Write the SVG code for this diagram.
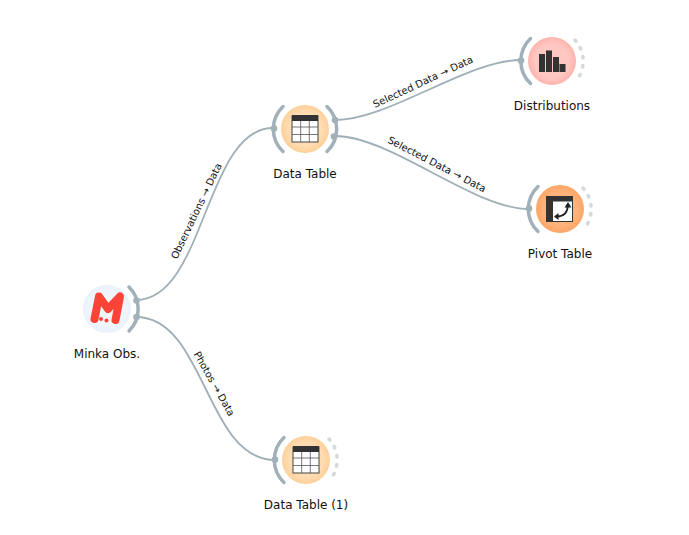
<svg xmlns="http://www.w3.org/2000/svg" width="689" height="535" viewBox="0 0 689 535">
<style>
text{font-family:"DejaVu Sans",sans-serif;fill:#111}
.t{font-size:12px;text-anchor:middle}
.e{font-size:10px;text-anchor:middle}
.c{fill:none;stroke:#9fb0b8;stroke-width:1.8}
.a{fill:none;stroke:#a2b1b9;stroke-width:3.500;stroke-linecap:round}
.o{fill:none;stroke:#d3d9dc;stroke-width:3.500;stroke-linecap:round;stroke-dasharray:1.500 7.700}
.d{fill:#a2b1b9}
.ic{fill:#333}
.g{fill:#fff;stroke:#444;stroke-width:1}
.l{stroke:#555;stroke-width:.8;fill:none}
</style>
<defs>
<radialGradient id="gt"><stop offset="0.7" stop-color="#ffdcb2"/><stop offset="1" stop-color="#ffd09a"/></radialGradient>
<radialGradient id="gd"><stop offset="0.7" stop-color="#ffc7c2"/><stop offset="1" stop-color="#ffb4ae"/></radialGradient>
<radialGradient id="gp"><stop offset="0.7" stop-color="#ffb27a"/><stop offset="1" stop-color="#fca667"/></radialGradient>
<radialGradient id="gm"><stop offset="0.7" stop-color="#f0f6fb"/><stop offset="1" stop-color="#eaf2fa"/></radialGradient>
<g id="table">
<rect x="-13" y="-13" width="26" height="26" class="g"/>
<rect x="-13" y="-14" width="26" height="6" class="ic"/>
<path class="l" d="M-13-2H13M-13 5.500H13M-4.300-8V13M4.300-8V13"/>
</g>
</defs>
<g id="connectors">
<path class="c" d="M136 300C205 300 205 128 273 128"/>
<path class="c" d="M136 317C205.500 317 205.500 460 275 460"/>
<path class="c" d="M335 120C389 120 467 60 521 60"/>
<path class="c" d="M335 136C391 136 473 209 529 209"/>
<text class="e" transform="translate(199.500 212.500) rotate(-64.500)">Observations → Data</text>
<text class="e" transform="translate(211.300 385.500) rotate(60.500)">Photos → Data</text>
<text class="e" transform="translate(424.500 85) rotate(-25)">Selected Data → Data</text>
<text class="e" transform="translate(435.300 167.300) rotate(27.500)">Selected Data → Data</text>
</g>
<g id="node-minka">
<circle cx="107" cy="309" r="24" fill="url(#gm)"/>
<path class="a" d="M129 287A31 31 0 0 1 129 331"/>
<circle class="d" cx="136.500" cy="300.500" r="3.300"/>
<circle class="d" cx="136.500" cy="317" r="3.300"/>
<path d="M94.500 319L99 296.500L108 309L120 296.500L115.500 320" fill="none" stroke="#fb4437" stroke-width="8" stroke-linecap="round" stroke-linejoin="round"/>
<circle cx="101" cy="319" r="2" fill="#fb4437"/>
<circle cx="106.500" cy="320.500" r="2" fill="#fb4437"/>
<text class="t" x="107" y="358">Minka Obs.</text>
</g>
<g id="node-data-table">
<circle cx="305" cy="129" r="24" fill="url(#gt)"/>
<path class="a" d="M283 106.500A31 31 0 0 0 283 151.500"/>
<path class="a" d="M327 106.500A31 31 0 0 1 327 151.500"/>
<circle class="d" cx="274" cy="128.500" r="3.300"/>
<circle class="d" cx="335" cy="120" r="3.300"/>
<circle class="d" cx="334" cy="136.500" r="3.300"/>
<use href="#table" x="305" y="129"/>
<text class="t" x="305" y="178">Data Table</text>
</g>
<g id="node-distributions">
<circle cx="552" cy="61" r="24" fill="url(#gd)"/>
<path class="a" d="M530.500 38.500A31 31 0 0 0 530.500 83.500"/>
<path class="o" d="M575 40A31 31 0 0 1 575 82"/>
<circle class="d" cx="521" cy="60.500" r="3.300"/>
<rect class="ic" x="539" y="54" width="6" height="18"/>
<rect class="ic" x="546" y="50.500" width="6" height="21.500"/>
<rect class="ic" x="553" y="57" width="6" height="15"/>
<rect class="ic" x="559.500" y="64" width="6" height="8"/>
<text class="t" x="552" y="110">Distributions</text>
</g>
<g id="node-pivot-table">
<circle cx="560" cy="209" r="24" fill="url(#gp)"/>
<path class="a" d="M538 186.500A31 31 0 0 0 538 231.500"/>
<path class="o" d="M583 188A31 31 0 0 1 583 230"/>
<circle class="d" cx="529" cy="208.500" r="3.300"/>
<rect class="ic" x="546" y="196" width="27" height="26"/>
<rect x="553" y="201.500" width="19" height="19.500" fill="#fff"/>
<path d="M556 216.500Q567 217 568 205.500" fill="none" stroke="#222" stroke-width="1.800"/>
<path d="M568 202L571.500 207.500H564.500ZM554 216.500L558.500 213V220Z" fill="#222"/>
<text class="t" x="560" y="258">Pivot Table</text>
</g>
<g id="node-data-table-1">
<circle cx="306" cy="460" r="24" fill="url(#gt)"/>
<path class="a" d="M284 437.500A31 31 0 0 0 284 482.500"/>
<path class="o" d="M329 439A31 31 0 0 1 329 481"/>
<circle class="d" cx="275" cy="459.500" r="3.300"/>
<use href="#table" x="306" y="460"/>
<text class="t" x="306" y="509">Data Table (1)</text>
</g>
</svg>
